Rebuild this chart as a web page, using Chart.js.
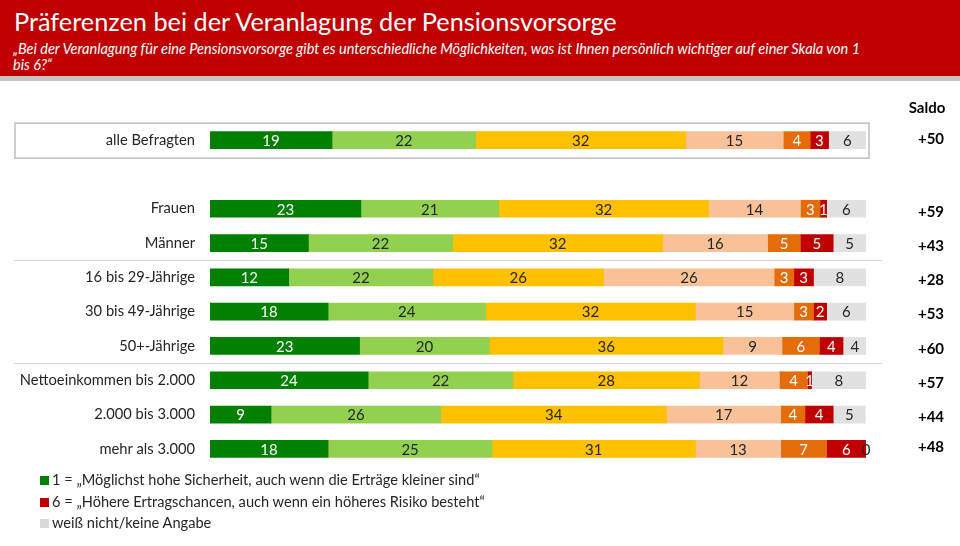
<!DOCTYPE html>
<html lang="de">
<head>
<meta charset="utf-8">
<title>Präferenzen bei der Veranlagung der Pensionsvorsorge</title>
<script src="https://cdn.jsdelivr.net/npm/chart.js@4.4.1/dist/chart.umd.min.js"></script>
<style>
  body { margin: 0; width: 960px; height: 546px; overflow: hidden; background: #fff; position: relative;
         font-family: Lato, "Open Sans", sans-serif; color: #262626; }
  #head { position: absolute; left: 0; top: 0; width: 960px; height: 76px; background: #c00000;
          border-bottom: 5px solid #c3c3c3; z-index: 2; }
  #title { position: absolute; left: 14px; top: 6px; color: #fff; font-size: 25.3px; white-space: nowrap; }
  #sub { position: absolute; left: 13px; top: 41px; color: #fff; font-size: 14.5px; font-style: italic;
         line-height: 16px; white-space: nowrap; }
  #wrap { position: absolute; left: 0; top: 0; width: 960px; height: 546px; }
  #legend { position: absolute; left: 40px; top: 469px; font-size: 14.6px; z-index: 2; }
  #legend div { height: 21.5px; line-height: 21.5px; white-space: nowrap; }
  #legend span { display: inline-block; width: 9px; height: 9px; margin-right: 3px; }
</style>
</head>
<body>
<div id="wrap"><canvas id="chart"></canvas></div>
<div id="head">
  <div id="title">Präferenzen bei der Veranlagung der Pensionsvorsorge</div>
  <div id="sub">„Bei der Veranlagung für eine Pensionsvorsorge gibt es unterschiedliche Möglichkeiten, was ist Ihnen persönlich wichtiger auf einer Skala von 1<br>bis 6?“</div>
</div>
<div id="legend">
  <div><span style="background:#008000"></span>1 = „Möglichst hohe Sicherheit, auch wenn die Erträge kleiner sind“</div>
  <div><span style="background:#c00000"></span>6 = „Höhere Ertragschancen, auch wenn ein höheres Risiko besteht“</div>
  <div><span style="background:#d9d9d9"></span>weiß nicht/keine Angabe</div>
</div>
<script>
// Zeilen (die leere Zeile trennt "alle Befragten" von den Gruppen)
const categories = ['alle Befragten', '', 'Frauen', 'Männer', '16 bis 29-Jährige', '30 bis 49-Jährige',
    '50+-Jährige', 'Nettoeinkommen bis 2.000', '2.000 bis 3.000', 'mehr als 3.000'];

// Werte in Prozent, Skala 1 bis 6 plus "weiß nicht"
const stufe1 = [18.6, null, 23, 15, 12, 18, 22.8, 24.1, 9.3, 18];
const stufe2 = [21.9, null, 21, 22, 22, 24, 19.8, 22.1, 25.9, 25];
const stufe3 = [32.0, null, 32, 32, 26, 32, 35.6, 28.4, 34.4, 31];
const stufe4 = [14.9, null, 14, 16, 26, 15, 9.0, 12.2, 17.4, 13];
const stufe5 = [4.1, null, 3, 5, 3, 3, 5.7, 4.3, 3.7, 7];
const stufe6 = [2.8, null, 1, 5, 3, 2, 3.6, 0.6, 4.3, 6];
const weissNicht = [5.7, null, 6, 5, 8, 6, 3.6, 8.3, 4.9, 0];

const saldo = ['+50', null, '+59', '+43', '+28', '+53', '+60', '+57', '+44', '+48'];

const seriesNames = ['1', '2', '3', '4', '5', '6', 'weiß nicht/keine Angabe'];
const seriesColors = ['#008000', '#92d050', '#ffc000', '#f8c198', '#e46c0a', '#c00000', '#e1e1e1'];
const labelColors = ['#ffffff', '#262626', '#262626', '#262626', '#ffffff', '#ffffff', '#262626'];

const FONT = 'Lato, "Open Sans", sans-serif';

// Zahlen in die Balkensegmente schreiben
const segmentLabels = {
    id: 'segmentLabels',
    afterDatasetsDraw(chart) {
        const ctx = chart.ctx;
        ctx.save();
        ctx.font = '15px ' + FONT;
        ctx.textAlign = 'center';
        ctx.textBaseline = 'middle';
        chart.data.datasets.forEach((ds, i) => {
            chart.getDatasetMeta(i).data.forEach((bar, j) => {
                const v = ds.data[j];
                if (v === null) return;
                ctx.fillStyle = labelColors[i];
                ctx.fillText(String(Math.round(v)), (bar.x + bar.base) / 2, bar.y + 1);
            });
        });
        ctx.restore();
    }
};

// Rahmen, Trennlinien und Saldo-Spalte
const decorations = {
    id: 'decorations',
    beforeDatasetsDraw(chart) {
        const ctx = chart.ctx;
        const y = chart.scales.y;
        ctx.save();
        // Rahmen um "alle Befragten"
        const yAll = y.getPixelForValue(0);
        ctx.strokeStyle = '#bfbfbf';
        ctx.lineWidth = 1.5;
        ctx.strokeRect(15, yAll - 17, 854, 35);
        // Trennlinien nach Geschlecht und Alter
        ctx.strokeStyle = '#d4d4d4';
        ctx.lineWidth = 1;
        [3, 6].forEach((idx) => {
            const yy = Math.round((y.getPixelForValue(idx) + y.getPixelForValue(idx + 1)) / 2) + 0.5;
            ctx.beginPath();
            ctx.moveTo(14, yy);
            ctx.lineTo(882, yy);
            ctx.stroke();
        });
        ctx.restore();
    },
    afterDraw(chart) {
        const ctx = chart.ctx;
        const y = chart.scales.y;
        ctx.save();
        ctx.fillStyle = '#000';
        ctx.font = 'bold 15px ' + FONT;
        ctx.textAlign = 'center';
        ctx.textBaseline = 'middle';
        ctx.fillText('Saldo', 927, 108);
        saldo.forEach((s, j) => {
            if (s === null) return;
            // die Saldo-Spalte liegt etwas tiefer als die Balken, die letzte Zeile etwas höher
            const shift = j === 0 ? -1 : (j === saldo.length - 1 ? -2 : 3);
            ctx.fillText(s, 931, y.getPixelForValue(j) + shift);
        });
        ctx.restore();
    }
};

const series = [stufe1, stufe2, stufe3, stufe4, stufe5, stufe6, weissNicht];

new Chart(document.getElementById('chart'), {
    type: 'bar',
    data: {
        labels: categories,
        datasets: series.map((d, i) => ({
            label: seriesNames[i],
            data: d,
            backgroundColor: seriesColors[i],
            borderWidth: 0,
            barThickness: 17,
        })),
    },
    options: {
        indexAxis: 'y',
        responsive: true,
        maintainAspectRatio: false,
        animation: false,
        layout: { padding: { top: 123, bottom: 80, left: 0, right: 94 } },
        plugins: { legend: { display: false }, tooltip: { enabled: false } },
        scales: {
            x: { stacked: true, min: 0, max: 100, display: false },
            y: {
                stacked: true,
                grid: { display: false, drawTicks: false },
                border: { display: false },
                ticks: { color: '#262626', font: { family: FONT, size: 14.7 }, padding: 15 },
                afterFit(scale) { scale.width = 210; },
            },
        },
    },
    plugins: [decorations, segmentLabels],
});
</script>
</body>
</html>
